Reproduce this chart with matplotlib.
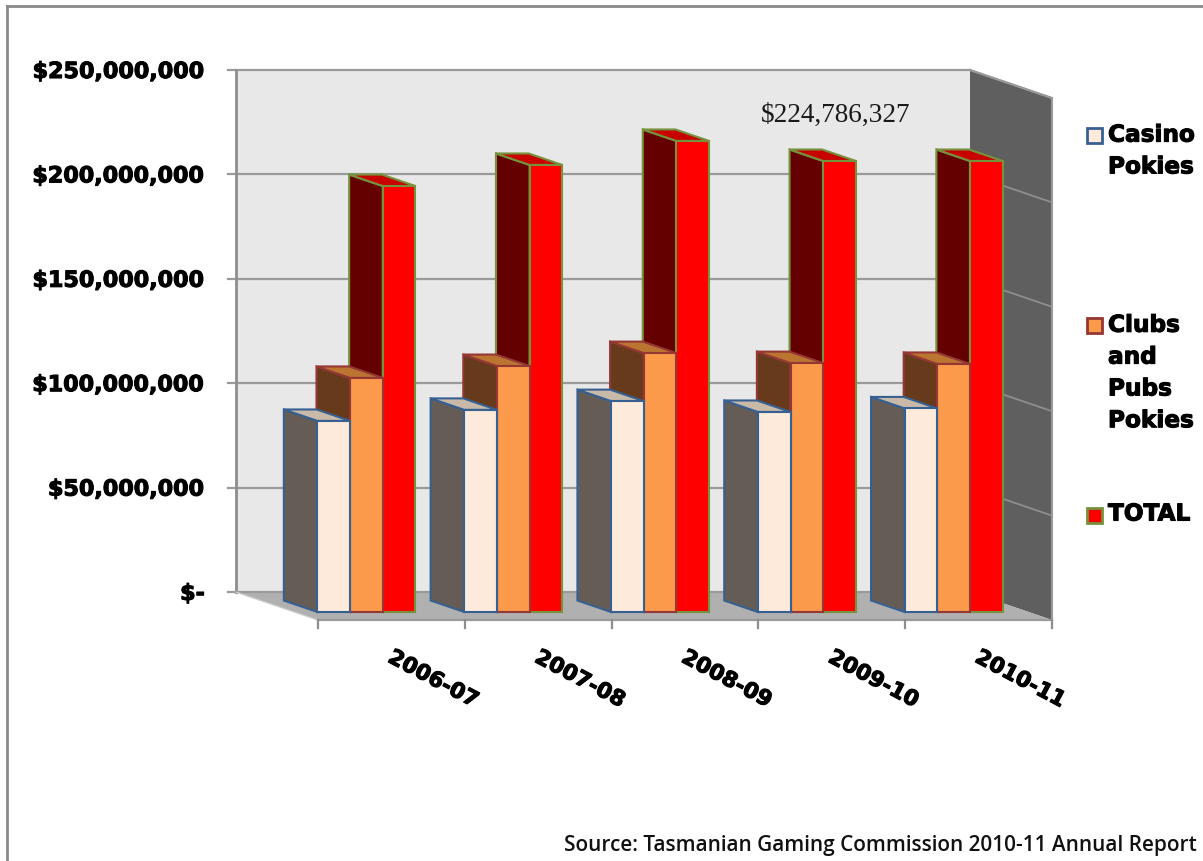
import matplotlib
matplotlib.use("Agg")
import matplotlib.pyplot as plt
import matplotlib.patheffects as pe
from matplotlib.patches import Polygon, Rectangle
from matplotlib.transforms import Affine2D

years = ["2006-07", "2007-08", "2008-09", "2009-10", "2010-11"]
casino = [91.5e6, 96.8e6, 101.0e6, 95.8e6, 97.5e6]
clubs = [112.1e6, 117.8e6, 124.0e6, 119.2e6, 118.8e6]
total = [204.0e6, 214.1e6, 225.6e6, 216.0e6, 216.0e6]
y_ticks = [0, 50e6, 100e6, 150e6, 200e6, 250e6]
y_labels = ["$-", "$50,000,000", "$100,000,000", "$150,000,000", "$200,000,000", "$250,000,000"]
y_top = 250e6

W, H = 1203, 861
cat_px = 146.8      # pixels for one category
per_px = y_top / 522  # dollars for one pixel
depth_x = 82 / cat_px
depth_y = 28 * per_px
bar_w = 0.2225
bar_start = 0.156
d_front, d_back = 0.286, 0.696
heavy = [pe.withStroke(linewidth=0.8, foreground="black")]

fig = plt.figure(figsize=(W / 100, H / 100), dpi=100, facecolor="white")
ax = fig.add_axes([0, 0, 1, 1])
ax.set_xlim(-318 / cat_px, (W - 318) / cat_px)
ax.set_ylim(-(H - 620) * per_px, 620 * per_px)
ax.axis("off")

# pixel coordinates of the picture, for the frame and legend
pix = Affine2D().scale(1, -1).translate(0, H)


def proj(x, v, d):
    # d = 0 on the front edge of the floor, d = 1 on the back wall
    return (x - d * depth_x, v + d * depth_y)


def face(points, color, edge=None, lw=0, z=2):
    ax.add_patch(Polygon(points, closed=True, facecolor=color, edgecolor=edge or color,
                         linewidth=lw, joinstyle="miter", zorder=z))


# walls and floor
n = len(years)
face([proj(0, 0, 1), proj(n, 0, 1), proj(n, y_top, 1), proj(0, y_top, 1)], "#e8e8e8", z=1)
face([proj(n, 0, 1), proj(n, 0, 0), proj(n, y_top, 0), proj(n, y_top, 1)], "#5f5f5f", z=1)
face([proj(0, 0, 1), proj(n, 0, 1), proj(n, 0, 0), proj(0, 0, 0)], "#b0b0b0", z=1)

for t, lab in zip(y_ticks, y_labels):
    a = proj(0, t, 1)
    b = proj(n, t, 1)
    c = proj(n, t, 0)
    ax.plot([a[0] - 8 / cat_px, b[0]], [a[1], b[1]], color="#9a9a9a", lw=1.6, zorder=1.5)
    if t > 0:
        ax.plot([b[0], c[0]], [b[1], c[1]], color="#8e8e8e", lw=1.3, zorder=1.5)
    ax.text(a[0] - 31 / cat_px, a[1] - 2 * per_px, lab, ha="right", va="center", fontsize=16,
            fontweight="bold", family="DejaVu Sans", color="black", zorder=5, path_effects=heavy)

# wall edges
a, b = proj(0, 0, 1), proj(0, y_top, 1)
ax.plot([a[0], b[0]], [a[1], b[1]], color="#8e8e8e", lw=2, zorder=1.6)
a, b = proj(n, y_top, 1), proj(n, y_top, 0)
ax.plot([a[0], b[0]], [a[1], b[1]], color="#9a9a9a", lw=1.5, zorder=1.6)
a, b = proj(n, 0, 0), proj(n, y_top, 0)
ax.plot([a[0], b[0]], [a[1], b[1]], color="#9a9a9a", lw=1.5, zorder=1.6)
a, b = proj(0, 0, 1), proj(0, 0, 0)
ax.plot([a[0], b[0]], [a[1], b[1]], color="#c8c8c8", lw=1, zorder=1.6)

# floor axis and ticks
ax.plot([0, n], [0, 0], color="#9a9a9a", lw=1.6, zorder=1.6)
for i in range(n + 1):
    ax.plot([i, i], [0, -8 * per_px], color="#8e8e8e", lw=1.6, zorder=1.6)
for i, lab in enumerate(years):
    ax.text(i + 0.783, -59 * per_px, lab, ha="center", va="center", rotation=-28,
            rotation_mode="anchor", fontsize=15.5, fontweight="bold", family="DejaVu Sans",
            path_effects=heavy)

# bars, drawn back to front: the view is from the left
series = [
    (total, 2, "#ff0000", "#640000", "#c80000", "#76923c"),
    (clubs, 1, "#fb9a4a", "#663a1b", "#bc7530", "#953735"),
    (casino, 0, "#fdeada", "#655d55", "#c9b9a8", "#376092"),
]
for i in range(n):
    for vals, j, front, side, top, edge in series:
        v = vals[i]
        x0 = i + bar_start + j * bar_w
        x1 = x0 + bar_w
        z = 2 + i + (2 - j) * 0.1
        face([proj(x0, 0, d_front), proj(x0, 0, d_back), proj(x0, v, d_back), proj(x0, v, d_front)],
             side, edge, 1.5, z=z)
        face([proj(x0, v, d_front), proj(x0, v, d_back), proj(x1, v, d_back), proj(x1, v, d_front)],
             top, edge, 1.5, z=z)
        face([proj(x0, 0, d_front), proj(x1, 0, d_front), proj(x1, v, d_front), proj(x0, v, d_front)],
             front, edge, 1.5, z=z + 0.01)

# data label for the peak total, as placed in the source chart
ax.text(836, 115, "$224,786,327", transform=pix, ha="center", va="center", fontsize=19.6,
        family="Liberation Serif", color="#1a1a1a", zorder=20)

# legend
legend_rows = [("#fdeada", "#376092", 135, "Casino\nPokies", 151),
               ("#fb9a4a", "#953735", 325, "Clubs\nand\nPubs\nPokies", 373),
               ("#ff0000", "#76923c", 515, "TOTAL", 514)]
for col, edge, sy, lab, ty in legend_rows:
    ax.add_patch(Rectangle((1087, sy - 7.5), 15, 15, transform=pix, facecolor=col,
                           edgecolor=edge, linewidth=2, zorder=20))
    ax.text(1108, ty, lab, transform=pix, ha="left", va="center", fontsize=16.7,
            fontweight="bold", family="DejaVu Sans", linespacing=1.49, zorder=20,
            path_effects=heavy)

ax.text(1197, 845, "Source: Tasmanian Gaming Commission 2010-11 Annual Report", transform=pix,
        ha="right", va="center", fontsize=14.95, family="Open Sans", fontweight="semibold",
        color="#111111", zorder=20)

# outer frame: only the top and left edges are in the picture
ax.plot([7, W], [6, 6], transform=pix, color="#8a8a8a", lw=2, zorder=21)
ax.plot([7, 7], [6, H], transform=pix, color="#8a8a8a", lw=2, zorder=21)

fig.savefig("out.png", dpi=100)
